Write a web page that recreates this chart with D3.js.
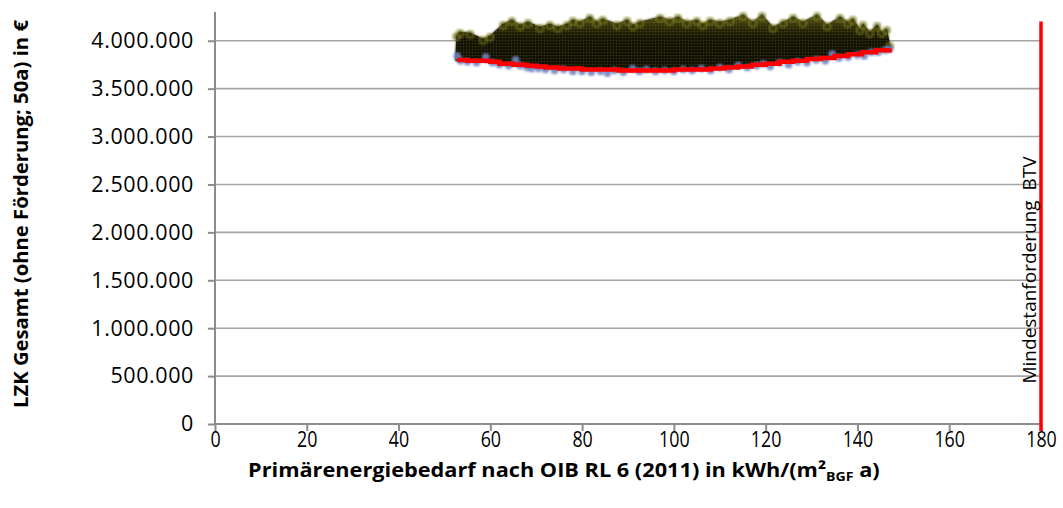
<!DOCTYPE html>
<html><head><meta charset="utf-8">
<script src="https://cdn.jsdelivr.net/npm/d3@7"></script>
<style>body{margin:0;background:#fff;}svg{display:block;font-family:"Open Sans",sans-serif;}</style>
</head><body><svg id="c" width="1063" height="508"></svg>
<script>
// ---- data ----
const yTicks = [0,500000,1000000,1500000,2000000,2500000,3000000,3500000,4000000];
const xTicks = [0,20,40,60,80,100,120,140,160,180];
const btvLimit = 180;
// upper envelope of the variant cloud [PEB, LZK]
const cloudTopX = [52.4,52.6,53.4,55.6,58.4,59.9,62.8,64.7,66.5,68.2,70.8,73.0,74.7,76.7,78.0,79.5,81.7,83.2,84.5,87.6,89.8,91.1,92.6,97.0,99.1,100.9,102.8,105.0,106.3,107.9,110.0,112.2,115.1,117.2,119.2,121.6,123.8,126.0,128.1,131.2,133.4,136.2,137.9,139.0,140.6,141.2,142.7,144.3,145.3,146.4,147.1,147.3];
const cloudTopY = [3850000,4080000,4115000,4104000,4042000,4073000,4198000,4240000,4188000,4219000,4167000,4198000,4167000,4198000,4240000,4219000,4272000,4219000,4251000,4198000,4240000,4188000,4219000,4272000,4240000,4272000,4219000,4240000,4198000,4240000,4219000,4240000,4292000,4219000,4292000,4167000,4219000,4272000,4219000,4292000,4188000,4272000,4219000,4251000,4146000,4198000,4115000,4188000,4115000,4146000,3979000,3930000];
// lower front (red line)
const frontX = [52.8,55,58,60,62,65,68,70,72,75,78,80,84,88,92,96,100,104,108,111,114,117,120,123,126,129,132,135,138,141,144,147];
const frontY = [3800000,3790000,3790000,3780000,3760000,3750000,3740000,3730000,3720000,3710000,3710000,3700000,3700000,3690000,3690000,3690000,3700000,3700000,3710000,3720000,3730000,3750000,3760000,3780000,3790000,3810000,3820000,3840000,3860000,3880000,3900000,3920000];
// variants near the front (blue-grey points)
const frontPtsX = [52.8,53.5,55,57,59,60.5,62,64,65.5,66.5,68,69,70.5,72,74,76,78,80,82,84,85.5,87,89,91,92.5,94,96,98,100,102,104,106,108,110,112,114,116,118,119.5,121,123,125,127,129,131,133,134.5,136,138,140,141.5,143,144.5,146,147];
const frontPtsY = [3840000,3790000,3780000,3770000,3830000,3770000,3750000,3740000,3800000,3740000,3720000,3710000,3710000,3700000,3690000,3700000,3680000,3680000,3670000,3680000,3660000,3690000,3670000,3710000,3680000,3700000,3680000,3690000,3680000,3700000,3690000,3710000,3690000,3720000,3700000,3740000,3720000,3740000,3760000,3730000,3770000,3750000,3780000,3770000,3800000,3790000,3860000,3820000,3830000,3850000,3840000,3880000,3880000,3900000,3910000];

// ---- layout ----
const svg = d3.select("#c");
const L = 215, R = 1041, B = 424, T = 12;
const FONT = '"Open Sans", sans-serif';
const x = d3.scaleLinear().domain([0,180]).range([L,R]);
const y = d3.scaleLinear().domain([0,4300000]).range([B,T]);
const grey = "#8c8c8c";

const defs = svg.append("defs");
const pat = defs.append("pattern").attr("id","dots").attr("patternUnits","userSpaceOnUse").attr("width",3).attr("height",3);
pat.append("rect").attr("width",3).attr("height",3).attr("fill","#0f0f04");
pat.append("circle").attr("cx",1.5).attr("cy",1.5).attr("r",0.85).attr("fill","#34340f");
defs.append("filter").attr("id","blur").append("feGaussianBlur").attr("stdDeviation",0.8);
defs.append("filter").attr("id","blur2").append("feGaussianBlur").attr("stdDeviation",1.3);
const grad = defs.append("linearGradient").attr("id","topglow").attr("gradientUnits","userSpaceOnUse")
  .attr("x1",0).attr("x2",0).attr("y1",y(4300000)).attr("y2",y(3700000));
grad.append("stop").attr("offset","0%").attr("stop-color","#b5b32a").attr("stop-opacity",0.6);
grad.append("stop").attr("offset","25%").attr("stop-color","#8a8a1e").attr("stop-opacity",0.25);
grad.append("stop").attr("offset","50%").attr("stop-color","#5a5a14").attr("stop-opacity",0.03);
grad.append("stop").attr("offset","100%").attr("stop-color","#5a5a14").attr("stop-opacity",0);

// gridlines
svg.append("g").selectAll("line").data(yTicks.filter(d=>d>0)).join("line")
  .attr("x1",L).attr("x2",R).attr("y1",d=>y(d)).attr("y2",d=>y(d))
  .attr("stroke","#a6a6a6").attr("stroke-width",1.6);

// axes
const fmt = d => d3.format(",")(d).replace(/,/g,".");
const ya = svg.append("g").attr("transform",`translate(${L},0)`)
  .call(d3.axisLeft(y).tickValues(yTicks).tickFormat(fmt).tickSize(7).tickPadding(14))
  .attr("font-family",FONT);
ya.select(".domain").attr("stroke",grey).attr("stroke-width",2).attr("d",`M0,${T}V${B}`);
ya.selectAll(".tick line").attr("stroke",grey).attr("stroke-width",2);
ya.selectAll("text").attr("font-size",21.5).attr("fill","#000").attr("letter-spacing",0.6);

const xa = svg.append("g").attr("transform",`translate(0,${B})`)
  .call(d3.axisBottom(x).tickValues(xTicks).tickFormat(d3.format("d")).tickSize(7).tickPadding(1))
  .attr("font-family",FONT);
xa.select(".domain").attr("stroke",grey).attr("stroke-width",2).attr("d",`M${L},0H${R}`);
xa.selectAll(".tick line").attr("stroke",grey).attr("stroke-width",2);
xa.selectAll("text").attr("font-size",21).attr("fill","#000").attr("transform","scale(0.85,1)");

// cloud area
const cloud = cloudTopX.map((d,i)=>({x:d,top:cloudTopY[i]}));
const frontInterp = v => {
  if (v<=frontX[0]) return frontY[0];
  if (v>=frontX[frontX.length-1]) return frontY[frontY.length-1];
  const i = d3.bisectRight(frontX,v);
  const t = (v-frontX[i-1])/(frontX[i]-frontX[i-1]);
  return frontY[i-1]+t*(frontY[i]-frontY[i-1]);
};
const area = d3.area().x(d=>x(d.x)).y1(d=>y(d.top)+2).y0(d=>y(frontInterp(d.x))+1).curve(d3.curveLinear);
svg.append("path").datum(cloud).attr("d",area).attr("fill","#181806").attr("filter","url(#blur2)");
svg.append("path").datum(cloud).attr("d",area).attr("fill","url(#dots)");
svg.append("path").datum(cloud).attr("d",area).attr("fill","url(#topglow)");
// rounded tops of the stacks
svg.append("g").selectAll("circle").data(cloud.slice(1,-1)).join("circle")
  .attr("cx",d=>x(d.x)).attr("cy",d=>y(d.top)+3.5).attr("r",4)
  .attr("fill","#3a3a10").attr("stroke","#a9a730").attr("stroke-width",1.3).attr("opacity",0.6).attr("filter","url(#blur2)");

// front points
svg.append("g").selectAll("circle").data(frontPtsX.map((d,i)=>[d,frontPtsY[i]])).join("circle")
  .attr("cx",d=>x(d[0])).attr("cy",d=>y(d[1])).attr("r",3.8)
  .attr("fill","#7384c0").attr("opacity",0.9).attr("filter","url(#blur)");

// red front line
svg.append("path").datum(frontX.map((d,i)=>[d,frontY[i]]))
  .attr("d",d3.line().x(d=>x(d[0])).y(d=>y(d[1])).curve(d3.curveStepAfter))
  .attr("fill","none").attr("stroke","#ff0000").attr("stroke-width",4.5);

// BTV line
svg.append("line").attr("x1",x(btvLimit)).attr("x2",x(btvLimit)).attr("y1",y(4200000)).attr("y2",B+7)
  .attr("stroke","#ff0000").attr("stroke-width",3.5);
svg.append("text").attr("transform",`translate(${x(btvLimit)-5},270) rotate(-90)`)
  .attr("text-anchor","middle").attr("font-size",19).attr("fill","#000")
  .attr("xml:space","preserve").text("Mindestanforderung  BTV");

// axis titles
svg.append("text").attr("transform","translate(28,214) rotate(-90)").attr("text-anchor","middle")
  .attr("font-size",19).attr("font-weight","bold").attr("textLength",388).attr("lengthAdjust","spacingAndGlyphs")
  .text("LZK Gesamt (ohne Förderung; 50a) in €");
const xt = svg.append("text").attr("x",248).attr("y",477).attr("font-size",20).attr("font-weight","bold");
xt.append("tspan").text("Primärenergiebedarf nach OIB RL 6 (2011) in kWh/(m²");
xt.append("tspan").attr("font-size",13).attr("dy",4).text("BGF");
xt.append("tspan").attr("dy",-4).text(" a)");
const w = xt.node().getComputedTextLength();
xt.attr("transform",`translate(248,0) scale(${632/w},1) translate(-248,0)`);
</script></body></html>
